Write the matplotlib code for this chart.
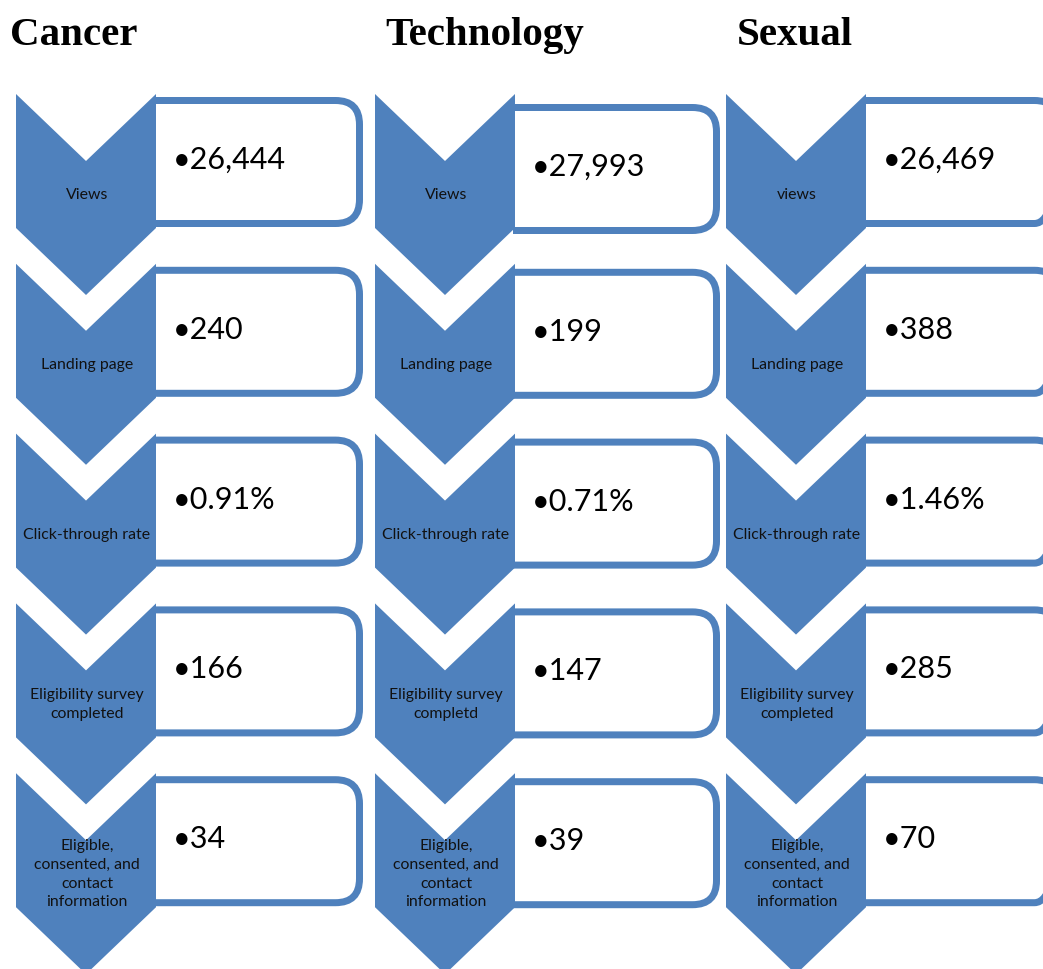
import matplotlib.pyplot as plt
from matplotlib.patches import Polygon, PathPatch
from matplotlib.path import Path

# Data
groups = ['Cancer', 'Technology', 'Sexual']
stage_labels = [
    ['Views', 'Landing page', 'Click-through rate',
     'Eligibility survey\ncompleted', 'Eligible,\nconsented, and\ncontact\ninformation'],
    ['Views', 'Landing page', 'Click-through rate',
     'Eligibility survey\ncompletd', 'Eligible,\nconsented, and\ncontact\ninformation'],
    ['views', 'Landing page', 'Click-through rate',
     'Eligibility survey\ncompleted', 'Eligible,\nconsented, and\ncontact\ninformation'],
]
stage_values = [
    ['26,444', '240', '0.91%', '166', '34'],
    ['27,993', '199', '0.71%', '147', '39'],
    ['26,469', '388', '1.46%', '285', '70'],
]

blue = '#4F81BD'
W, H = 1043, 969

fig = plt.figure(figsize=(W / 100, H / 100), dpi=100)
ax = fig.add_axes([0, 0, 1, 1])
ax.set_xlim(0, W)
ax.set_ylim(H, 0)
ax.axis('off')

col_x = [16, 375, 726]        # left edge of chevrons
box_right = [363, 720, 1062]  # outer right edge of boxes
title_x = [10, 385, 737]
chev_w, chev_h, chev_d = 140, 134, 67
row_top0, row_step = 94, 169.8
lw_px = 7
lw = lw_px * 72 / 100

for c, name in enumerate(groups):
    ax.text(title_x[c], 45, name, fontsize=29.5, fontweight='bold',
            family='Liberation Serif', va='baseline', ha='left')
    x0 = col_x[c]
    x1 = x0 + chev_w
    xc = (x0 + x1) / 2
    for r in range(len(stage_values[c])):
        top = row_top0 + r * row_step
        # box to the right of the chevron, rounded on the right only
        shift = 10 if (c == 1 and r == 0) else (5 if c == 1 else 3)
        bt = top + shift + lw_px / 2
        bb = top + shift + 130 - lw_px / 2
        br = box_right[c] - lw_px / 2
        rad = 24
        verts = [(x1 - 2, bt), (br - rad, bt), (br, bt), (br, bt + rad),
                 (br, bb - rad), (br, bb), (br - rad, bb), (x1 - 2, bb)]
        codes = [Path.MOVETO, Path.LINETO, Path.CURVE3, Path.CURVE3,
                 Path.LINETO, Path.CURVE3, Path.CURVE3, Path.LINETO]
        ax.add_patch(PathPatch(Path(verts, codes), fill=False, edgecolor=blue,
                               linewidth=lw, zorder=1, capstyle='butt'))

        chev = Polygon([(x0, top), (xc, top + chev_d), (x1, top),
                        (x1, top + chev_h), (xc, top + chev_h + chev_d),
                        (x0, top + chev_h)], closed=True,
                       facecolor=blue, edgecolor='none', zorder=2)
        ax.add_patch(chev)

        t = ax.text(xc + 1, top + 101, stage_labels[c][r], fontsize=11.4,
                    family='Lato', ha='center', va='center',
                    linespacing=1.42, color='#111111', zorder=3)
        t.set_clip_path(chev)

        ax.text(x1 + 17, top + shift + 63, '\u2022' + stage_values[c][r],
                fontsize=22, family='Lato', ha='left', va='center',
                color='black', zorder=3)

fig.savefig('out.png', dpi=100)
